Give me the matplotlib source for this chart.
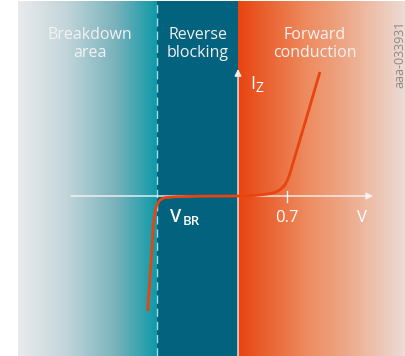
import numpy as np
import matplotlib.pyplot as plt
from matplotlib.colors import LinearSegmentedColormap

plt.rcParams['font.family'] = ['Open Sans', 'DejaVu Sans']

# diode characteristic (schematic), V in volts, I in arbitrary units
fwd_v = [0, 0.24, 0.43, 0.52, 0.57, 0.62, 0.67, 0.70, 0.73, 0.76, 0.79, 0.99, 1.17]
fwd_i = [0, 0.05, 0.2, 0.35, 0.5, 0.75, 1.1, 1.5, 2.0, 2.7, 3.4, 8.1, 12.4]
rev_v = [0, -0.54, -0.90, -1.03, -1.07, -1.10, -1.125, -1.145, -1.165, -1.18, -1.21, -1.23, -1.26, -1.29]
rev_i = [0, -0.02, -0.08, -0.15, -0.22, -0.35, -0.5, -0.7, -1.0, -1.4, -2.9, -5.4, -8.4, -11.5]

v_br = -1.157
v_fwd = 0.7
regions = ['Breakdown\narea', 'Reverse\nblocking', 'Forward\nconduction']
region_x = [-2.12, -0.571, 1.10]

x_min, x_max = -3.4, 2.4
y_min, y_max = -16, 19.6
panel_left, panel_top = -3.143, 19.5

fig = plt.figure(figsize=(4.06, 3.56), dpi=100)
ax = fig.add_axes([0, 0, 1, 1])
ax.set_xlim(x_min, x_max)
ax.set_ylim(y_min, y_max)
ax.axis('off')

grad = np.linspace(0, 1, 256).reshape(1, -1)
cm_break = LinearSegmentedColormap.from_list('b', [(0, '#eaeaec'), (0.35, '#c1d5da'),
                                                   (0.7, '#79b2bc'), (1, '#0c99a7')])
cm_fwd = LinearSegmentedColormap.from_list('f', [(0, '#e84410'), (0.4, '#ed8a5e'),
                                                 (0.6, '#eea27f'), (1, '#ecdcd4')])
ax.imshow(grad, cmap=cm_break, aspect='auto', extent=[panel_left, v_br, y_min, panel_top], zorder=0)
ax.fill_between([v_br, 0], y_min, panel_top, color='#03627d', lw=0, zorder=0)
ax.imshow(grad, cmap=cm_fwd, aspect='auto', extent=[0, x_max, y_min, panel_top], zorder=0)

ax.axvline(v_br, color='#a6dbe1', lw=1, ls=(0, (6, 3.5)), zorder=1)

# axes
ax.annotate('', xy=(1.93, 0), xytext=(-2.386, 0),
            arrowprops=dict(arrowstyle='-|>', color='#f4f4f4', lw=1, mutation_scale=10, shrinkA=0, shrinkB=0), zorder=2)
ax.annotate('', xy=(0, 12.7), xytext=(0, y_min),
            arrowprops=dict(arrowstyle='-|>', color='#f6eeea', lw=1, mutation_scale=10, shrinkA=0, shrinkB=0), zorder=2)
ax.plot([v_fwd, v_fwd], [-0.55, 0.55], color='#f4f4f4', lw=1, zorder=2)

ax.plot(fwd_v, fwd_i, color='#e8440f', lw=2, solid_capstyle='butt', zorder=3)
ax.plot(rev_v, rev_i, color='#e8440f', lw=2, solid_capstyle='butt', zorder=3)

for label, x in zip(regions, region_x):
    ax.text(x, 13.9, label, ha='center', va='baseline', fontsize=11.5, color='#f2f2f2',
            linespacing=1.15, zorder=4)

ax.text(0.171, 10.7, 'I', fontsize=13, color='white', va='baseline', ha='left', zorder=4)
ax.text(0.245, 10.4, 'Z', fontsize=10, color='white', va='baseline', ha='left', zorder=4)
ax.text(-0.971, -2.6, 'V', fontsize=13, color='white', va='baseline', ha='left', weight='semibold', zorder=4)
ax.text(-0.79, -2.9, 'BR', fontsize=9.5, color='white', va='baseline', ha='left', weight='semibold', zorder=4)
ax.text(v_fwd, -2.6, '0.7', fontsize=12, color='white', va='baseline', ha='center', zorder=4)
ax.text(1.764, -2.6, 'V', fontsize=12, color='white', va='baseline', ha='center', zorder=4)

ax.text(2.31, 14.2, 'aaa-033931', fontsize=9, color='#8a8a8a', rotation=90, ha='center', va='center', zorder=4)

fig.savefig('out.png', dpi=100)
